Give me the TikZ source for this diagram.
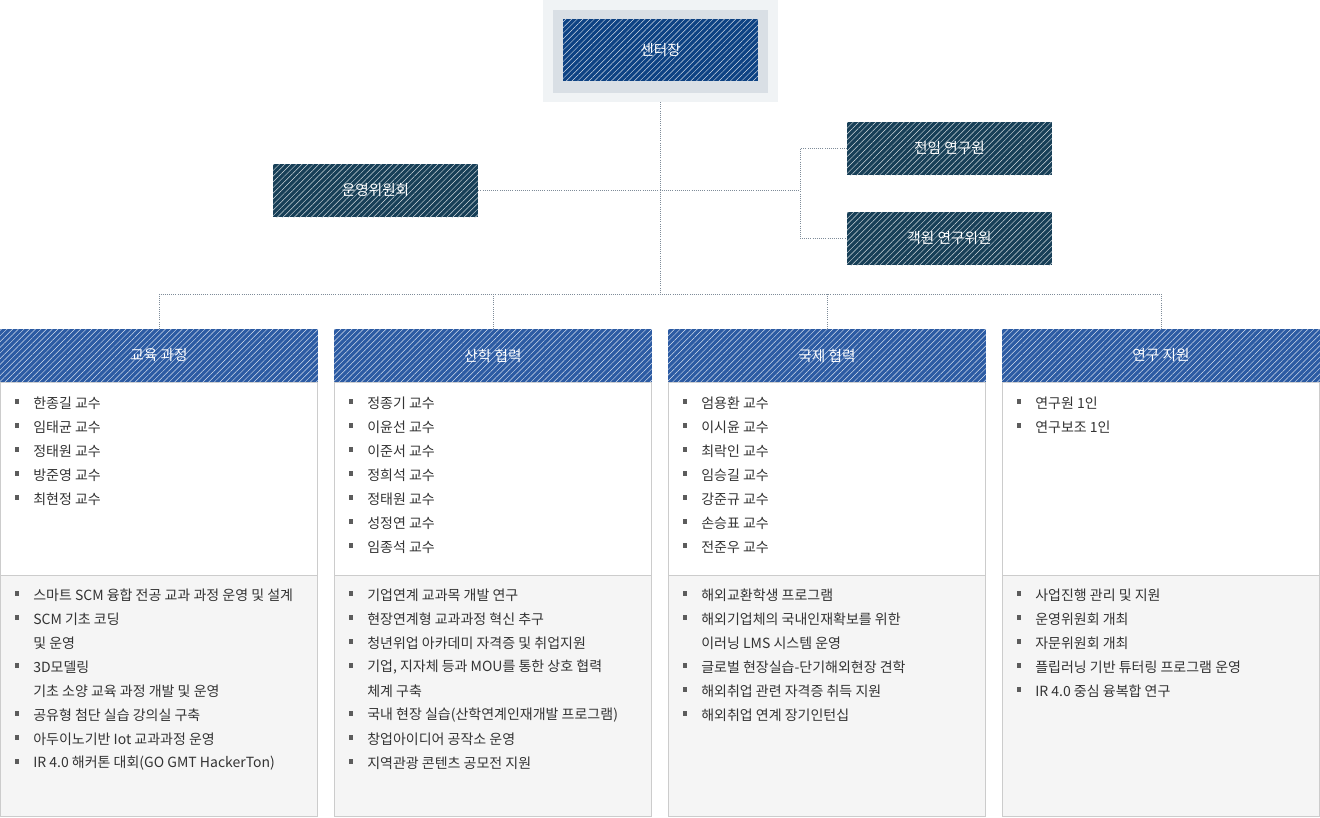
\documentclass[tikz,border=0pt]{standalone}
\usepackage{fontspec}
\setmainfont{Noto Sans CJK KR}
\usetikzlibrary{patterns.meta}
\definecolor{chiefblue}{HTML}{0D4283}
\definecolor{boxteal}{HTML}{173F57}
\definecolor{headblue}{HTML}{2C5BA3}
\definecolor{linegray}{HTML}{7F8C99}
\definecolor{txtgray}{HTML}{333333}
\definecolor{outerbg}{HTML}{F0F3F5}
\definecolor{innerbg}{HTML}{D9DFE5}
\definecolor{lowerbg}{HTML}{F5F5F5}
\tikzset{
  hatch/.style={postaction={pattern={Lines[angle=45,distance=3pt,line width=0.35pt]},pattern color=white!80!#1}},
  darkbox/.style={fill=#1,hatch=#1,draw=none,text=white,font=\fontsize{11}{13}\selectfont,minimum width=153.75pt,minimum height=39.75pt,inner sep=0pt},
  conn/.style={linegray,densely dotted,line width=0.6pt},
  item/.style={anchor=west,text=txtgray,font=\fontsize{10.5}{12}\selectfont,inner sep=0pt}
}
\newcommand{\sqbul}{\textcolor{txtgray!80}{\rule[0.22em]{0.3em}{0.3em}}}
\newcommand{\itemlist}[3]{%
  \foreach \b/\t [count=\i from 0] in {#3}{
    \ifnum\b=1 \node[item] at (#1+15,#2+24*\i) {\sqbul};\fi
    \node[item] at (#1+33,#2+24*\i) {\t};
  }}
\begin{document}
\begin{tikzpicture}[x=0.75pt,y=-0.75pt]
  \useasboundingbox (0,0) rectangle (1320,817);
  % chief
  \fill[outerbg] (543,0) rectangle (778,102);
  \fill[innerbg] (553,10) rectangle (768,93);
  \node[darkbox=chiefblue,minimum width=146.25pt,minimum height=46.5pt] (chief) at (660.5,50) {센터장};
  \coordinate (chiefb) at (660,102);
  % committee and researchers
  \node[darkbox=boxteal] (comm) at (375.5,190.5) {운영위원회};
  \node[darkbox=boxteal] (full) at (949.5,148.5) {전임 연구원};
  \node[darkbox=boxteal] (guest) at (949.5,238.5) {객원 연구위원};
  \coordinate (bus) at (660,294);
  \coordinate (brk) at (800,190.5);
  \draw[conn] (chiefb) -- (bus);
  \draw[conn] (comm.east) -- (brk);
  \draw[conn] (full.west) -| (brk) |- (guest.west);
  % columns
  \foreach \n/\x/\h in {edu/0/교육 과정,ind/334/산학 협력,intl/668/국제 협력,res/1002/연구 지원}{
    \fill[white] (\x,382) rectangle ++(318,193);
    \fill[lowerbg] (\x,575) rectangle ++(318,242);
    \draw[black!20,line width=0.75pt] (\x+0.5,382) rectangle (\x+317.5,816.5);
    \draw[black!20,line width=0.75pt] (\x+0.5,575) -- (\x+317.5,575);
    \node[darkbox=headblue,minimum width=238.5pt] (\n) at (\x+159,355.5) {\h};
  }
  \draw[conn] (edu.north) |- (bus) -| (res.north);
  \draw[conn] (ind.north) -- (ind.north |- bus);
  \draw[conn] (intl.north) -- (intl.north |- bus);
  % lists
  \itemlist{0}{403}{1/한종길 교수,1/임태균 교수,1/정태원 교수,1/방준영 교수,1/최현정 교수}
  \itemlist{334}{403}{1/정종기 교수,1/이윤선 교수,1/이준서 교수,1/정희석 교수,1/정태원 교수,1/성정연 교수,1/임종석 교수}
  \itemlist{668}{403}{1/엄용환 교수,1/이시윤 교수,1/최락인 교수,1/임승길 교수,1/강준규 교수,1/손승표 교수,1/전준우 교수}
  \itemlist{1002}{403}{1/연구원 1인,1/연구보조 1인}
  \itemlist{0}{595}{1/스마트 SCM 융합 전공 교과 과정 운영 및 설계,1/SCM 기초 코딩/데이터 분석 교육과정 개발,0/및 운영,1/3D모델링/스캐닝/프린팅 기반 창의 역량,0/기초 소양 교육 과정 개발 및 운영,1/공유형 첨단 실습 강의실 구축,1/아두이노기반 Iot 교과과정 운영,1/IR 4.0 해커톤 대회(GO GMT HackerTon)}
  \itemlist{334}{595}{1/기업연계 교과목 개발 연구,1/현장연계형 교과과정 혁신 추구,1/청년위업 아카데미 자격증 및 취업지원,1/{기업, 지자체 등과 MOU를 통한 상호 협력},0/체계 구축,1/국내 현장 실습(산학연계인재개발 프로그램),1/창업아이디어 공작소 운영,1/지역관광 콘텐츠 공모전 지원}
  \itemlist{668}{595}{1/해외교환학생 프로그램,1/해외기업체의 국내인재확보를 위한,0/이러닝 LMS 시스템 운영,1/글로벌 현장실습-단기해외현장 견학,1/해외취업 관련 자격증 취득 지원,1/해외취업 연계 장기인턴십/해외취업처 발굴}
  \itemlist{1002}{595}{1/사업진행 관리 및 지원,1/운영위원회 개최,1/자문위원회 개최,1/플립러닝 기반 튜터링 프로그램 운영,1/IR 4.0 중심 융복합 연구}
\end{tikzpicture}
\end{document}
